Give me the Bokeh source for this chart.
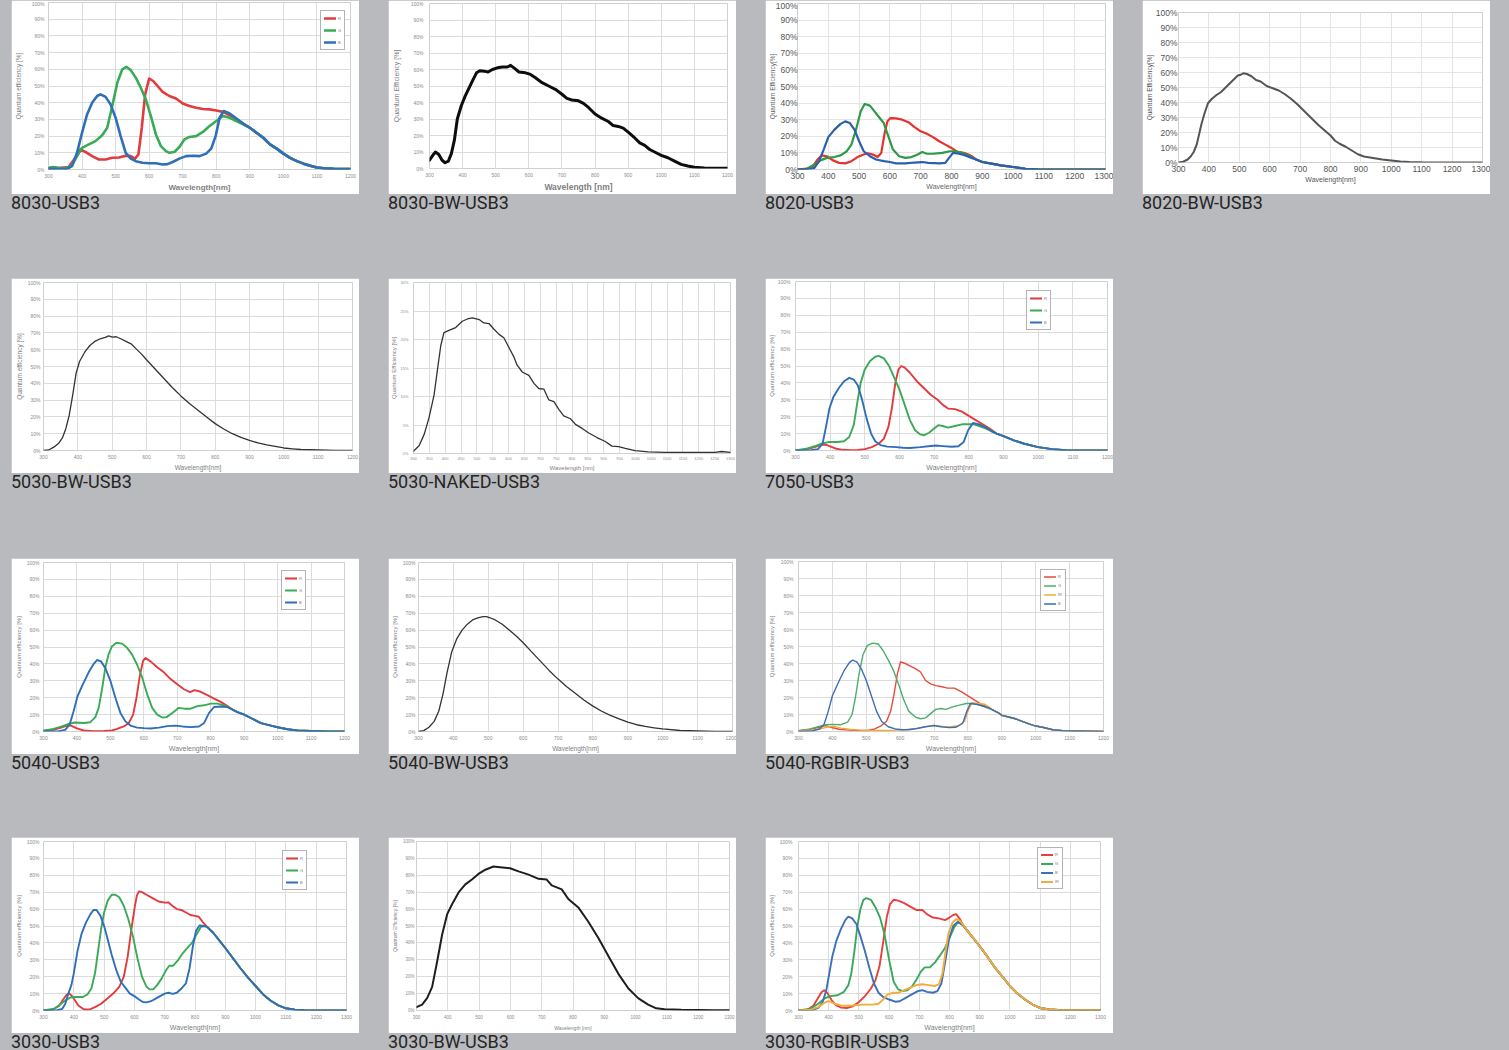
from bokeh.plotting import figure
from bokeh.models import Range1d, FixedTicker, Div, Spacer, CustomJSTickFormatter
from bokeh.layouts import column, row
from bokeh.embed import file_html
from bokeh.resources import INLINE

BG = "#b9babd"

# ---------------- data: (wavelength nm, QE %) ----------------
# 8030-USB3
TAIL_8030 = [(900, 25), (920, 22), (940, 19), (960, 15), (980, 12.5), (1000, 9.5), (1020, 7), (1040, 5),
             (1060, 3.5), (1080, 2.2), (1100, 1.2), (1120, 0.7), (1150, 0.4), (1200, 0.2)]
R_8030 = [(300, 0.5), (330, 0.8), (360, 1.5), (380, 7), (395, 12), (410, 10.5), (430, 8), (450, 6), (470, 6),
          (490, 7), (510, 7.2), (530, 8.3), (545, 8), (558, 6.5), (568, 9), (578, 25), (588, 45), (600, 54.5),
          (612, 53), (625, 50), (640, 46.5), (660, 44), (680, 42.5), (700, 39.5), (720, 38), (740, 37),
          (760, 36.2), (780, 36), (800, 35.3), (820, 34.5), (840, 32.5), (860, 30), (880, 27.5)] + TAIL_8030
G_8030 = [(300, 1), (315, 1.5), (330, 1), (350, 0.5), (370, 2.5), (385, 8), (400, 13), (420, 15), (440, 17),
          (460, 20.5), (475, 25), (490, 38), (505, 52), (520, 60), (532, 61.5), (545, 59.5), (560, 55),
          (575, 49), (590, 42), (605, 32), (620, 21), (635, 14), (650, 11), (660, 10), (675, 10.5), (690, 13.5),
          (705, 18), (720, 19.5), (740, 20), (760, 22.5), (780, 26), (800, 29), (820, 32), (840, 31),
          (860, 29), (880, 27)] + TAIL_8030
B_8030 = [(300, 0.5), (330, 0.3), (355, 0.3), (370, 2), (385, 10), (400, 22), (415, 33), (430, 40), (445, 44),
          (455, 45), (470, 43.5), (485, 39), (500, 31), (515, 20), (530, 10), (545, 6.5), (560, 5), (580, 4),
          (600, 3.7), (620, 3.7), (640, 3), (655, 3.2), (670, 4.5), (690, 6.5), (710, 8), (730, 8.2), (750, 8),
          (770, 9.5), (785, 12.5), (798, 20), (810, 31), (822, 35), (840, 33.5), (860, 30.5),
          (880, 27.5)] + TAIL_8030

# 8030-BW-USB3
BW_8030 = [(300, 5), (310, 8), (318, 10), (328, 8.5), (338, 5), (347, 3.5), (357, 4.5), (366, 9), (375, 17),
           (384, 30), (396, 38), (408, 44), (420, 49), (432, 54), (442, 58), (452, 59.2), (465, 59),
           (477, 58.5), (490, 60), (505, 61), (520, 61.5), (535, 61.5), (545, 62.5), (558, 60.5), (570, 58.5),
           (590, 58), (605, 57), (620, 55), (640, 52), (660, 50), (680, 48), (700, 45), (715, 42.5),
           (730, 41.5), (750, 41), (765, 39.5), (780, 37), (800, 33), (820, 30.5), (840, 28.5), (855, 26),
           (870, 25.5), (885, 24.5), (900, 22), (920, 18.5), (935, 15.5), (950, 14), (965, 11.5), (980, 10),
           (1000, 8), (1020, 6.5), (1040, 4.5), (1060, 2.5), (1080, 1.5), (1100, 0.8), (1130, 0.3),
           (1160, 0.1), (1200, 0.1)]

# 8020-USB3
TAIL_8020 = [(880, 6), (900, 4.5), (930, 3.5), (960, 2.5), (1000, 1.5), (1040, 0.4), (1080, 0.1),
             (1150, 0), (1300, 0)]
R_8020 = [(300, 0), (330, 0.5), (350, 2), (365, 6), (378, 8.5), (395, 8), (415, 5.5), (435, 4), (455, 3.7),
          (475, 5), (495, 7.5), (515, 9), (528, 9.8), (545, 9), (560, 7.5), (572, 10), (583, 22), (592, 29),
          (602, 31), (620, 30.8), (640, 30), (660, 28.5), (680, 25.5), (700, 23), (720, 21.5), (740, 19.5),
          (760, 17), (780, 15), (800, 13), (820, 10.5), (840, 10), (855, 9), (870, 7.5)] + TAIL_8020
G_8020 = [(300, 0), (330, 0.3), (355, 3), (375, 5.5), (395, 7), (420, 7.5), (440, 8.5), (460, 11), (475, 15),
          (490, 24), (505, 35), (518, 39.5), (535, 38.5), (550, 35), (565, 31.5), (580, 28), (595, 20),
          (610, 12), (630, 8), (650, 7), (670, 7.5), (690, 9), (705, 10.5), (720, 9.5), (740, 9.5), (770, 10),
          (795, 11), (815, 11), (835, 10), (855, 8.5), (870, 7)] + TAIL_8020
B_8020 = [(300, 0), (340, 0.3), (355, 1), (370, 5), (385, 12), (400, 19.5), (420, 24), (440, 27.5), (455, 29),
          (470, 28), (485, 24), (500, 17), (515, 11), (535, 8), (555, 6), (580, 5), (600, 4.5), (620, 3.7),
          (650, 3.7), (680, 4.2), (705, 4.5), (725, 4), (760, 3.7), (780, 4), (792, 7), (805, 10),
          (825, 9.5), (845, 8.5), (865, 7)] + TAIL_8020

# 8020-BW-USB3
BW_8020 = [(300, 0), (315, 0.5), (330, 2), (340, 4), (350, 7), (360, 12), (368, 19), (376, 26), (386, 33),
           (397, 39.5), (410, 42.5), (425, 45), (440, 47), (455, 50), (470, 53), (485, 56), (495, 58),
           (505, 58.5), (513, 59.5), (525, 59), (540, 57.5), (555, 55), (570, 54), (590, 51), (610, 49.5),
           (630, 48), (650, 45.5), (670, 42.5), (690, 39), (705, 36), (720, 33), (740, 29), (760, 25),
           (780, 21.5), (800, 18), (815, 14.5), (830, 12.5), (850, 10.5), (870, 8), (890, 5.5), (910, 4),
           (940, 3), (970, 2), (1000, 1.3), (1030, 0.7), (1060, 0.3), (1100, 0.1), (1300, 0)]

# 5030-BW-USB3
BW_5030 = [(300, 0), (315, 0.3), (330, 2), (345, 4.5), (355, 7.5), (365, 13), (375, 21), (385, 33), (395, 46),
           (405, 53), (420, 58.5), (435, 62.5), (450, 65), (465, 66.5), (480, 67.3), (490, 68.2), (500, 67.5),
           (512, 67.7), (525, 66.5), (540, 65), (555, 63.5), (570, 60.5), (585, 57.5), (600, 54), (625, 48.5),
           (650, 43), (675, 37.5), (700, 32.5), (725, 28), (750, 24), (775, 20), (800, 16), (825, 12.8),
           (850, 10), (875, 7.8), (900, 6), (925, 4.5), (950, 3.3), (975, 2.4), (1000, 1.5), (1025, 1),
           (1050, 0.6), (1100, 0.3), (1150, 0.1), (1200, 0)]

# 5030-NAKED-USB3
NAKED_5030 = [(300, 0.4), (318, 1.4), (334, 3.4), (349, 6.3), (365, 10.3), (376, 14.9), (386, 18.9),
              (396, 21.2), (412, 21.6), (433, 22.1), (454, 23.2), (470, 23.6), (486, 23.8), (507, 23.5),
              (522, 22.9), (538, 22.8), (554, 21.8), (570, 20.9), (585, 20.3), (601, 18.6), (617, 16.9),
              (627, 15.5), (643, 14.3), (664, 13.7), (680, 12.3), (695, 11.4), (711, 11.3), (727, 9.4),
              (743, 9.1), (759, 7.7), (774, 6.6), (795, 6.1), (811, 5.1), (832, 4.4), (853, 3.6), (879, 2.8),
              (905, 2.1), (926, 1.3), (947, 1.2), (968, 0.9), (999, 0.5), (1041, 0.3), (1094, 0.2),
              (1150, 0.2), (1200, 0.2), (1251, 0.2), (1272, 0.35), (1300, 0.2)]

# 7050-USB3
TAIL_7050 = [(880, 10), (900, 8.5), (930, 6), (960, 4), (1000, 2), (1040, 0.8), (1080, 0.2), (1120, 0),
             (1200, 0)]
R_7050 = [(300, 0), (330, 0.5), (355, 2), (375, 3.3), (387, 3.5), (400, 2.5), (415, 1.2), (435, 0.4),
          (460, 0.2), (480, 0.3), (500, 0.8), (520, 2), (540, 4), (555, 7), (568, 14), (578, 25), (588, 40),
          (597, 48), (605, 50), (615, 49), (630, 46), (650, 41), (670, 37), (690, 33), (710, 30), (725, 27),
          (740, 24.8), (760, 24.5), (780, 23), (800, 20.5), (820, 18), (840, 15.5), (860, 13)] + TAIL_7050
G_7050 = [(300, 0), (330, 1), (355, 2.5), (375, 4), (395, 5), (420, 5), (440, 5.5), (455, 8), (468, 15),
          (478, 28), (488, 40), (500, 48), (515, 53), (530, 55.5), (540, 56), (555, 54.5), (570, 50),
          (585, 43), (600, 36), (615, 27), (630, 18), (645, 12), (660, 9.5), (670, 9), (685, 10.5), (700, 13),
          (712, 15), (725, 14.5), (740, 13.5), (760, 14.5), (780, 15.5), (800, 15.5), (815, 15.5),
          (830, 14.5), (850, 13), (865, 11.5)] + TAIL_7050
B_7050 = [(300, 0), (345, 0.2), (365, 0.8), (378, 4), (388, 14), (398, 25), (410, 32), (425, 37), (440, 41),
          (455, 43), (468, 42), (480, 38.5), (492, 30), (505, 19), (518, 10), (530, 5.5), (545, 3.2),
          (565, 2.3), (590, 2), (610, 1.6), (630, 1.5), (660, 2), (690, 2.7), (705, 3), (725, 2.6), (750, 2.2),
          (770, 2.5), (785, 5), (798, 12), (812, 16.3), (830, 15.5), (850, 13.5), (865, 11.5)] + TAIL_7050

# 5040-USB3
TAIL_5040 = [(880, 11.5), (900, 10), (920, 8), (950, 5), (980, 3.5), (1000, 2.5), (1030, 1.3), (1060, 0.6),
             (1100, 0.3), (1150, 0.1), (1200, 0.1)]
R_5040 = [(300, 0.5), (330, 1), (355, 2.5), (370, 3.5), (382, 3.5), (400, 1.8), (420, 0.6), (450, 0.2),
          (480, 0.3), (505, 0.6), (520, 1.5), (540, 3), (555, 5), (568, 10), (578, 20), (588, 33), (598, 42),
          (605, 43.5), (620, 41.5), (640, 38), (660, 35), (680, 31), (700, 28), (720, 25), (738, 23.3),
          (752, 24.5), (770, 23.5), (790, 21.5), (810, 19.5), (830, 17.5), (850, 15), (865, 13)] + TAIL_5040
G_5040 = [(300, 0.5), (330, 1.5), (355, 3), (375, 4.5), (395, 5.3), (420, 5), (440, 5.5), (455, 8.5),
          (465, 14), (475, 25), (485, 38), (495, 46), (505, 50.5), (518, 52.5), (535, 52), (550, 49.5),
          (565, 45.5), (580, 39.5), (595, 32), (610, 22), (625, 14), (640, 10), (655, 8.3), (668, 8.5),
          (685, 11), (705, 14), (720, 13.5), (740, 13.5), (760, 15), (780, 15.5), (800, 16.5), (820, 16.5),
          (840, 15.5), (860, 13.5)] + TAIL_5040
B_5040 = [(300, 0), (345, 0.2), (365, 1), (378, 4), (390, 12), (402, 21), (418, 28), (435, 35), (450, 40),
          (460, 42.3), (472, 41.5), (485, 37.5), (500, 30), (515, 20), (530, 11), (545, 6), (560, 3.5),
          (580, 2.3), (600, 2), (620, 1.8), (645, 2.3), (670, 3.2), (695, 3.5), (715, 3), (740, 2.6), (765, 3),
          (780, 5), (795, 11), (810, 14.5), (830, 14.8), (850, 14.5), (865, 13)] + TAIL_5040

# 5040-BW-USB3
BW_5040 = [(300, 0), (315, 0.5), (330, 2.5), (345, 6), (358, 12), (370, 22), (382, 35), (395, 47), (410, 55),
           (425, 60), (440, 63.5), (455, 66), (470, 67.2), (485, 68), (495, 68), (505, 67.3), (520, 66),
           (540, 63.5), (560, 60), (580, 56.5), (600, 52.5), (625, 47), (650, 41.5), (675, 36), (700, 31),
           (725, 26.5), (750, 22.5), (775, 18.5), (800, 15), (825, 12), (850, 9.5), (875, 7.5), (900, 5.5),
           (925, 4), (950, 3), (975, 2.2), (1000, 1.5), (1050, 0.6), (1100, 0.3), (1150, 0.1), (1200, 0)]

# 5040-RGBIR-USB3
TAIL_5040IR = [(870, 13), (890, 11), (900, 9.5), (920, 8.5), (940, 7.5), (960, 6), (980, 4.5), (1000, 3.2),
               (1020, 2.5), (1050, 1), (1080, 0.5), (1120, 0.3), (1160, 0.2), (1200, 0.1)]
R_5040IR = [(300, 0.5), (330, 1), (360, 2.5), (380, 3.5), (395, 2.5), (420, 1.3), (450, 0.8), (480, 0.6),
            (505, 0.6), (525, 1.5), (545, 3.5), (560, 6), (572, 12), (582, 22), (592, 34), (601, 41),
            (615, 40), (630, 38.5), (645, 37), (660, 35), (675, 30), (690, 28), (705, 27), (720, 26.5),
            (740, 25.5), (760, 25.5), (780, 23.5), (800, 21), (820, 18.5), (840, 16), (855, 14.5)] + TAIL_5040IR
G_5040IR = [(300, 0.5), (335, 1.5), (360, 3), (380, 4), (400, 4.2), (425, 4), (445, 5.5), (458, 10),
            (468, 20), (478, 33), (490, 45), (503, 50.5), (518, 52), (535, 51.5), (550, 47.5), (565, 42),
            (580, 36), (595, 28), (610, 19), (625, 12), (645, 8.5), (660, 7.5), (675, 8), (690, 10.5),
            (705, 13), (720, 13.5), (735, 13), (755, 14.5), (775, 15.5), (795, 16.5), (815, 16.5),
            (835, 15.5), (855, 14)] + TAIL_5040IR
IR_5040IR = [(300, 0.3), (340, 0.8), (370, 1.8), (390, 2.8), (405, 3), (425, 2), (450, 1.3), (480, 0.8),
             (520, 0.6), (560, 0.6), (590, 0.8), (620, 1.2), (650, 2), (680, 3), (700, 3.5), (725, 3),
             (750, 2.8), (775, 3.5), (790, 6), (802, 13), (812, 17), (830, 16.5), (850, 16),
             (865, 14)] + TAIL_5040IR
B_5040IR = [(300, 0), (340, 0.3), (362, 1.5), (375, 4), (388, 12), (400, 21), (418, 29), (435, 36),
            (450, 40.5), (460, 42), (472, 41), (485, 37), (500, 30), (515, 21), (530, 12), (545, 6),
            (565, 2.8), (585, 1.5), (605, 1), (625, 1), (650, 1.8), (675, 2.8), (700, 3.5), (720, 2.8),
            (745, 2.3), (765, 2.5), (785, 5), (797, 12), (807, 16.5), (825, 16), (845, 15),
            (860, 14)] + TAIL_5040IR

# 3030-USB3
TAIL_3030 = [(840, 49.5), (860, 46), (880, 41.5), (900, 37), (925, 31), (950, 25), (975, 19.5), (1000, 14.5),
             (1025, 9.5), (1050, 5.8), (1075, 3), (1100, 1.3), (1130, 0.5), (1160, 0.2), (1200, 0.1),
             (1300, 0)]
R_3030 = [(300, 0), (330, 0.5), (350, 2.5), (365, 6.5), (375, 9), (383, 10.2), (392, 9), (402, 6.5),
          (415, 3), (430, 1), (440, 0.6), (455, 0.8), (470, 2), (490, 4), (510, 7), (530, 10), (550, 14),
          (565, 20), (578, 32), (590, 48), (600, 60), (608, 68), (615, 70.5), (625, 70), (640, 68.5),
          (660, 66.5), (680, 64.5), (700, 63.8), (712, 64), (725, 62), (740, 60), (755, 59.5), (770, 58),
          (785, 56.5), (800, 56), (812, 55.5), (825, 52.5)] + TAIL_3030
G_3030 = [(300, 0), (335, 1), (355, 3.5), (372, 6), (390, 7.8), (410, 8), (430, 8), (445, 9.5), (458, 13),
          (470, 22), (480, 35), (490, 48), (500, 58), (512, 65), (525, 68.5), (537, 68.5), (550, 67),
          (565, 62), (580, 54), (595, 44), (610, 31), (625, 20), (640, 14), (650, 12.5), (662, 12.5),
          (675, 15), (690, 19), (705, 24), (715, 26.5), (728, 26.5), (745, 30), (760, 34), (775, 37),
          (790, 40), (805, 45), (820, 49.5), (832, 50)] + TAIL_3030
B_3030 = [(300, 0), (345, 0.2), (362, 1), (372, 4), (382, 10), (392, 15), (400, 22), (412, 35), (425, 45),
          (440, 52), (455, 57), (465, 59.5), (475, 59.5), (488, 56), (500, 50), (512, 42), (525, 33),
          (540, 24), (555, 17), (570, 13.5), (585, 10), (600, 8.5), (615, 6.5), (628, 5), (640, 4.8),
          (655, 5.5), (670, 7), (685, 8.5), (700, 10), (712, 10.5), (727, 9.8), (740, 10.5), (755, 13),
          (770, 16), (782, 25), (793, 38), (803, 47), (815, 50.3), (830, 50)] + TAIL_3030

# 3030-BW-USB3
BW_3030 = [(300, 2), (318, 3.5), (334, 7.3), (350, 14), (366, 29), (382, 45), (398, 57), (414, 63), (435, 70),
           (456, 74.6), (477, 77.5), (498, 80.8), (520, 83.3), (546, 85.2), (567, 84.8), (599, 84.2),
           (626, 82.3), (658, 80.4), (690, 77.9), (716, 77.5), (732, 74), (764, 71.7), (785, 66), (817, 61),
           (849, 52.5), (881, 42.9), (913, 32.3), (945, 21.7), (977, 13), (1008, 7.3), (1040, 3.5),
           (1066, 1.3), (1093, 0.8), (1146, 0.4), (1252, 0.2), (1300, 0.2)]

# 3030-RGBIR-USB3
TAIL_3030IR = [(860, 47), (880, 42.5), (900, 38), (925, 32), (950, 25.5), (975, 20), (1000, 14.5),
               (1025, 10), (1050, 6.5), (1075, 3.5), (1100, 1.5), (1130, 0.6), (1160, 0.3), (1200, 0.2),
               (1300, 0.2)]
R_3030IR = [(300, 0), (330, 0.5), (350, 3), (365, 7.5), (377, 11), (385, 12), (395, 10.5), (410, 6),
            (425, 3), (440, 1.8), (460, 1.5), (480, 2.5), (500, 5), (520, 8.5), (540, 13), (555, 18),
            (568, 26), (580, 40), (592, 55), (603, 63), (615, 65.5), (630, 65), (650, 63.5), (670, 61.5),
            (690, 59.5), (710, 59.5), (725, 57), (745, 55), (765, 54.5), (785, 53.5), (800, 55), (812, 56.5),
            (822, 57), (835, 54), (848, 49.5)] + TAIL_3030IR
G_3030IR = [(300, 0), (340, 1), (365, 4), (385, 7), (405, 8.5), (430, 9), (450, 11), (465, 15), (475, 22),
            (485, 35), (495, 50), (505, 60), (515, 65.5), (525, 66.5), (540, 65.5), (555, 61), (570, 55),
            (585, 45), (600, 30), (615, 17), (630, 12.5), (645, 11.5), (660, 12), (675, 14), (690, 18),
            (705, 23), (718, 25.5), (735, 25.5), (752, 28.5), (770, 33), (785, 37), (800, 43), (815, 49),
            (828, 52.5), (848, 50)] + TAIL_3030IR
B_3030IR = [(300, 0), (345, 0.2), (365, 1.5), (380, 5), (392, 12), (402, 22), (412, 32), (425, 41),
            (440, 48), (455, 53.5), (465, 55.5), (478, 54.5), (492, 51), (505, 44), (520, 35), (535, 25),
            (550, 16), (565, 10.5), (580, 8), (600, 6.5), (620, 5.2), (635, 5.5), (655, 7.5), (675, 9.5),
            (695, 11.5), (710, 12), (725, 11), (745, 10.5), (760, 11.5), (773, 16), (785, 28), (798, 42),
            (812, 50), (828, 52.5), (848, 50)] + TAIL_3030IR
IR_3030IR = [(300, 0), (340, 0.5), (365, 2), (385, 4.5), (400, 5.5), (420, 4), (440, 3), (460, 2.8),
             (480, 3), (500, 3.3), (520, 3.5), (545, 3.5), (565, 4), (580, 6.5), (595, 9.5), (615, 10.5),
             (630, 10.5), (650, 12), (670, 13.5), (690, 15), (710, 15.5), (730, 15), (750, 14.5),
             (765, 15.5), (777, 22), (787, 35), (797, 46), (810, 52), (822, 54), (835, 53),
             (848, 50)] + TAIL_3030IR

CAPTIONS = ["8030-USB3", "8030-BW-USB3", "8020-USB3", "8020-BW-USB3",
            "5030-BW-USB3", "5030-NAKED-USB3", "7050-USB3",
            "5040-USB3", "5040-BW-USB3", "5040-RGBIR-USB3",
            "3030-USB3", "3030-BW-USB3", "3030-RGBIR-USB3"]

X_1200 = list(range(300, 1201, 100))
X_1300 = list(range(300, 1301, 100))
X_1300_50 = list(range(300, 1301, 50))
Y_100 = list(range(0, 101, 10))
Y_30 = list(range(0, 31, 5))

RED, GREEN, BLUE, ORANGE = "#e23b3e", "#3aab55", "#2e6fb9", "#f2ac3a"


def make_panel(h, xr, yr, xticks, yticks, borders, series, lw, ylab, xlab,
               tick_fs="5px", tick_col="#8c8c8c", ylab_fs="6.5px", xlab_fs="7.5px", xlab_bold=False,
               ytick_sd=4, xtick_sd=4, ylab_sd=4, xlab_sd=2, legend_xy=None, grid_col="#dcdcdc",
               lab_col="#808080"):
    bl, br, bt, bb = borders
    p = figure(width=348, height=h, x_range=Range1d(*xr), y_range=Range1d(*yr),
               output_backend="svg", toolbar_location=None,
               min_border_left=bl, min_border_right=br, min_border_top=bt, min_border_bottom=bb)
    p.background_fill_color = "white"
    p.border_fill_color = "white"
    p.outline_line_color = "#d0d0d0"
    p.xaxis.ticker = FixedTicker(ticks=xticks)
    p.yaxis.ticker = FixedTicker(ticks=yticks)
    p.yaxis.formatter = CustomJSTickFormatter(code="return tick + '%';")
    p.xaxis.formatter = CustomJSTickFormatter(code="return String(tick);")
    p.axis.axis_line_color = None
    p.axis.major_tick_line_color = None
    p.axis.minor_tick_line_color = None
    p.axis.major_tick_out = 0
    p.axis.major_tick_in = 0
    p.axis.major_label_text_font_size = tick_fs
    p.axis.major_label_text_color = tick_col
    p.axis.major_label_text_font = "Liberation Sans"
    p.axis.axis_label_text_color = lab_col
    p.axis.axis_label_text_font = "Liberation Sans"
    p.axis.axis_label_text_font_style = "normal"
    p.yaxis.major_label_standoff = ytick_sd
    p.xaxis.major_label_standoff = xtick_sd
    p.yaxis.axis_label = ylab
    p.xaxis.axis_label = xlab
    p.yaxis.axis_label_text_font_size = ylab_fs
    p.xaxis.axis_label_text_font_size = xlab_fs
    p.yaxis.axis_label_standoff = ylab_sd
    p.xaxis.axis_label_standoff = xlab_sd
    if xlab_bold:
        p.xaxis.axis_label_text_font_style = "bold"
    p.xgrid.grid_line_color = grid_col
    p.ygrid.grid_line_color = grid_col
    for pts, col, name in series:
        xs = [a for a, b in pts]
        ys = [b for a, b in pts]
        if legend_xy is not None:
            p.line(xs, ys, line_color=col, line_width=lw, legend_label=name,
                   line_join="round", line_cap="round")
        else:
            p.line(xs, ys, line_color=col, line_width=lw, line_join="round", line_cap="round")
    if legend_xy is not None:
        n = len(series)
        lg = p.legend[0]
        lg.location = legend_xy
        lg.label_text_font_size = "4px"
        lg.label_text_color = "#777777"
        lg.glyph_width = 12
        lg.glyph_height = 8 if n == 3 else 7
        lg.label_height = 8 if n == 3 else 7
        lg.label_width = 3
        lg.label_standoff = 2
        lg.padding = 3
        lg.spacing = 4 if n == 3 else 2
        lg.margin = 0
        lg.border_line_color = "#6a6a6a"
        lg.border_line_width = 1.5
        lg.background_fill_color = "white"
        lg.background_fill_alpha = 1
    return p


def caption(txt, h):
    return Div(text=txt, width=348, height=h, margin=0,
               styles={"font-family": "Roboto, sans-serif", "font-size": "18px", "line-height": "18px",
                       "color": "#262626", "overflow": "visible", "white-space": "nowrap"})


def cell(p, txt, cap_h):
    return column(p, caption(txt, cap_h), spacing=0)


QE = "Quantum efficiency [%]"
QE2 = "Quantum Efficiency [%]"
QE3 = "Quantum Efficiency[%]"
WL = "Wavelength[nm]"
WL2 = "Wavelength [nm]"

# ---- row 1 ----
p1 = make_panel(194, (300, 1200), (0, 100), X_1200, Y_100, (34, 9, 2, 22),
                [(R_8030, RED, "R"), (G_8030, GREEN, "G"), (B_8030, BLUE, "B")], 2.6, QE, WL,
                xlab_fs="8px", xlab_bold=True, ylab_sd=7, xlab_sd=2, legend_xy=(272, 119))
p2 = make_panel(194, (300, 1200), (0, 100), X_1200, Y_100, (41, 9, 3, 23),
                [(BW_8030, "#0d0d0d", "BW")], 3, QE2, WL2, ylab_fs="7px", xlab_fs="8.5px",
                xlab_bold=True, ytick_sd=6, ylab_sd=8, xlab_sd=2)
p3 = make_panel(194, (300, 1300), (0, 100), X_1300, Y_100, (30, 8, 3, 25),
                [(R_8020, "#e8302c", "R"), (G_8020, "#2e9a46", "G"), (B_8020, "#2a5fb0", "B")], 2.2,
                QE3, WL, tick_fs="8.5px", tick_col="#555555", ylab_fs="6.5px", xlab_fs="7px",
                ytick_sd=0, xtick_sd=3, ylab_sd=-3, xlab_sd=1, grid_col="#e4e4e4", lab_col="#666666")
p4 = make_panel(194, (300, 1300), (0, 100), X_1300, Y_100, (31, 8, 12, 32),
                [(BW_8020, "#555555", "BW")], 2, QE3, WL, tick_fs="8.5px", tick_col="#555555",
                ylab_fs="6.5px", xlab_fs="7px", ytick_sd=1, xtick_sd=3, ylab_sd=0, xlab_sd=1,
                grid_col="#e4e4e4", lab_col="#555555")

# ---- row 2 ----
p5 = make_panel(195, (300, 1200), (0, 100), X_1200, Y_100, (32, 7, 4, 19),
                [(BW_5030, "#333333", "BW")], 1.3, QE, WL, ytick_sd=3, ylab_sd=2, xlab_fs="6.5px")
p6 = make_panel(195, (300, 1300), (0, 30), X_1300_50, Y_30, (23, 6, 4, 17),
                [(NAKED_5030, "#333333", "BW")], 1.3, QE2, WL2, tick_fs="4px", ylab_fs="6px",
                xlab_fs="6px", ytick_sd=5, ylab_sd=0, xtick_sd=3, xlab_sd=2)
p7 = make_panel(195, (300, 1200), (0, 100), X_1200, Y_100, (27, 6, 3, 18),
                [(R_7050, RED, "R"), (G_7050, GREEN, "G"), (B_7050, BLUE, "B")], 1.9, QE, WL,
                ylab_fs="6px", xlab_fs="7px", ytick_sd=5, ylab_sd=0, legend_xy=(231, 120))

# ---- row 3 ----
p8 = make_panel(196, (300, 1200), (0, 100), X_1200, Y_100, (32, 15, 4, 18),
                [(R_5040, RED, "R"), (G_5040, GREEN, "G"), (B_5040, BLUE, "B")], 1.9, QE, WL,
                ylab_fs="6px", xlab_fs="7px", ytick_sd=4, ylab_sd=2, legend_xy=(238, 121))
p9 = make_panel(196, (300, 1200), (0, 100), X_1200, Y_100, (30, 4, 4, 18),
                [(BW_5040, "#333333", "BW")], 1.3, QE, WL, ylab_fs="6px", xlab_fs="6.5px",
                ytick_sd=3, ylab_sd=2)
p10 = make_panel(196, (300, 1200), (0, 100), X_1200, Y_100, (33, 10, 3, 19),
                 [(R_5040IR, "#e64b3c", "R"), (G_5040IR, "#4caf6a", "G"), (IR_5040IR, ORANGE, "IR"),
                  (B_5040IR, "#3b6fb6", "B")], 1.4, QE, WL, ylab_fs="6px", xlab_fs="7px",
                 ytick_sd=5, ylab_sd=3, legend_xy=(242, 120))

# ---- row 4 ----
p11 = make_panel(196, (300, 1300), (0, 100), X_1300, Y_100, (32, 13, 4, 19),
                 [(R_3030, RED, "R"), (G_3030, GREEN, "G"), (B_3030, BLUE, "B")], 1.9, QE, WL,
                 ylab_fs="6px", xlab_fs="7px", ytick_sd=4, ylab_sd=2, legend_xy=(239, 120))
p12 = make_panel(196, (300, 1300), (0, 100), X_1300, Y_100, (26, 7, 4, 19),
                 [(BW_3030, "#1e1e1e", "BW")], 2, QE2, WL2, tick_fs="4.5px", ylab_fs="5px",
                 xlab_fs="5px", ytick_sd=2, ylab_sd=2, xlab_sd=3)
p13 = make_panel(196, (300, 1300), (0, 100), X_1300, Y_100, (33, 13, 4, 19),
                 [(R_3030IR, "#e8403f", "R"), (G_3030IR, "#3aa85a", "G"), (B_3030IR, "#3c70b8", "B"),
                  (IR_3030IR, ORANGE, "IR")], 1.9, QE, WL, ylab_fs="6px", xlab_fs="7px",
                 ytick_sd=6, ylab_sd=2, legend_xy=(239, 121))

GAP = 29
LEFT = 11
row1 = row(Spacer(width=LEFT), cell(p1, CAPTIONS[0], 84), Spacer(width=GAP), cell(p2, CAPTIONS[1], 84),
           Spacer(width=GAP), cell(p3, CAPTIONS[2], 84), Spacer(width=GAP), cell(p4, CAPTIONS[3], 84))
row2 = row(Spacer(width=LEFT), cell(p5, CAPTIONS[4], 85), Spacer(width=GAP), cell(p6, CAPTIONS[5], 85),
           Spacer(width=GAP), cell(p7, CAPTIONS[6], 85))
row3 = row(Spacer(width=LEFT), cell(p8, CAPTIONS[7], 83), Spacer(width=GAP), cell(p9, CAPTIONS[8], 83),
           Spacer(width=GAP), cell(p10, CAPTIONS[9], 83))
row4 = row(Spacer(width=LEFT), cell(p11, CAPTIONS[10], 17), Spacer(width=GAP), cell(p12, CAPTIONS[11], 17),
           Spacer(width=GAP), cell(p13, CAPTIONS[12], 17))

bgdiv = Div(text="", width=0, height=0, margin=0,
            styles={"position": "fixed", "left": "0px", "top": "0px", "width": "100vw", "height": "100vh",
                    "background-color": BG, "z-index": "-1"})

root = column(bgdiv, row1, row2, row3, row4, spacing=0,
              styles={"background-color": BG})

open("out.html", "w").write(file_html(root, INLINE))
